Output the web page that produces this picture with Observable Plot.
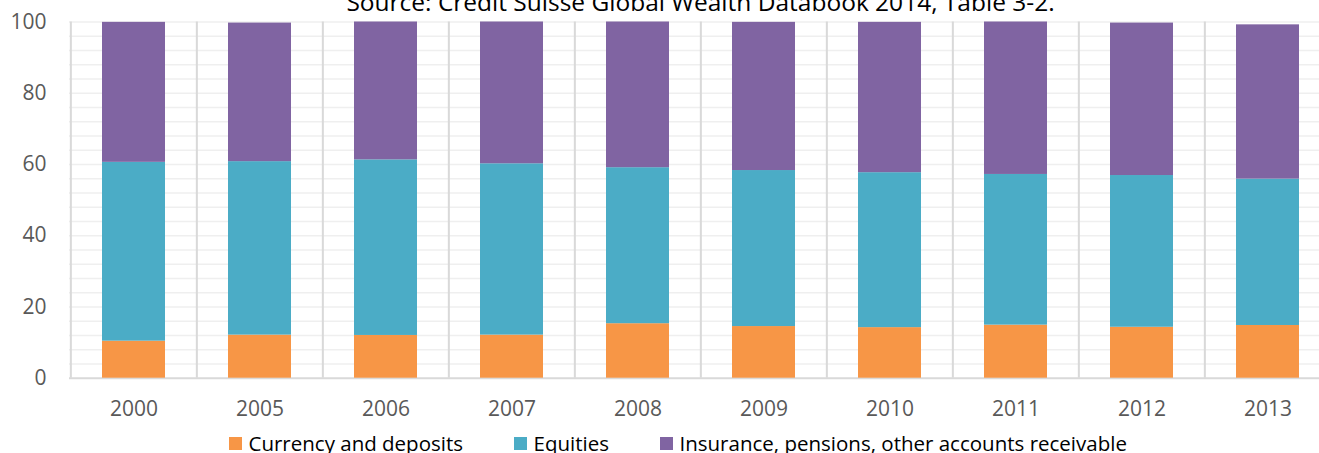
<!DOCTYPE html>
<html>
<head>
<meta charset="utf-8">
<script src="https://cdn.jsdelivr.net/npm/d3@7"></script>
<script src="https://cdn.jsdelivr.net/npm/@observablehq/plot@0.6"></script>
<style>
  html, body { margin: 0; padding: 0; background: #fff; overflow: hidden; }
  #wrap { position: relative; width: 1319px; height: 453px; overflow: hidden; font-family: "Open Sans", sans-serif; }
  #title { position: absolute; left: 69px; width: 1263px; top: -10.5px; text-align: center; font-size: 24.5px; line-height: 24.5px; color: #000; white-space: nowrap; }
  #chart { position: absolute; left: 0; top: 0; width: 1345px; }
  #chart svg { max-width: none !important; }
  #legend { position: absolute; left: 229px; top: 433px; display: flex; align-items: flex-start; font-size: 20.5px; line-height: 20.5px; color: #000; white-space: nowrap; }
  .item { display: flex; align-items: flex-start; margin-right: 51px; }
  .sw { width: 13px; height: 13px; margin-top: 4px; margin-right: 6.5px; }
</style>
</head>
<body>
<div id="wrap">
  <div id="chart"></div>
  <div id="title">Source: Credit Suisse Global Wealth Databook 2014, Table 3-2.</div>
  <div id="legend"></div>
</div>
<script>
const years = ["2000", "2005", "2006", "2007", "2008", "2009", "2010", "2011", "2012", "2013"];
const seriesNames = ["Currency and deposits", "Equities", "Insurance, pensions, other accounts receivable"];
const currency = [10.4, 12.1, 12.0, 12.1, 15.3, 14.5, 14.2, 14.9, 14.3, 14.8];
const equities = [50.2, 48.7, 49.3, 48.1, 43.8, 43.8, 43.5, 42.3, 42.6, 41.1];
const insurance = [39.3, 38.9, 38.7, 39.8, 40.9, 41.6, 42.2, 42.8, 42.8, 43.3];
const colors = ["#F79646", "#4BACC6", "#8064A2"];
const yTicks = [0, 20, 40, 60, 80, 100];
const minorTicks = d3.range(4, 101, 4);

const seriesValues = [currency, equities, insurance];
const data = [];
years.forEach((yr, i) => {
  seriesNames.forEach((s, j) => data.push({year: yr, series: s, value: seriesValues[j][i]}));
});

const width = 1345, height = 430;
const marginLeft = 69, marginRight = 13, marginTop = 21.5, marginBottom = 52.3;
const step = (width - marginLeft - marginRight) / years.length;

const plot = Plot.plot({
  width, height, marginLeft, marginRight, marginTop, marginBottom,
  style: {fontFamily: "Open Sans", fontSize: "21px", color: "#595959", background: "#fff", overflow: "visible", maxWidth: "none"},
  x: {domain: years, paddingInner: 0.5, paddingOuter: 0.25, label: null},
  y: {domain: [0, 100], label: null},
  color: {domain: seriesNames, range: colors},
  marks: [
    Plot.ruleY(minorTicks, {stroke: "#efefef", strokeWidth: 1.5}),
    Plot.ruleX(years, {x: d => d, dx: -step / 2, stroke: "#d9d9d9", strokeWidth: 2}),
    Plot.ruleY([0], {stroke: "#d9d9d9", strokeWidth: 2}),
    Plot.barY(data, {x: "year", y: "value", fill: "series", order: seriesNames}),
    Plot.axisX({tickSize: 0, tickPadding: 23, fontSize: 21, fill: "#595959"}),
    Plot.axisY({ticks: yTicks, tickSize: 0, tickPadding: 23, fontSize: 21, fill: "#595959"})
  ]
});
document.getElementById("chart").appendChild(plot);

const legend = document.getElementById("legend");
seriesNames.forEach((s, i) => {
  const it = document.createElement("div");
  it.className = "item";
  const sw = document.createElement("div");
  sw.className = "sw";
  sw.style.background = colors[i];
  const tx = document.createElement("span");
  tx.textContent = s;
  it.appendChild(sw); it.appendChild(tx);
  legend.appendChild(it);
});
</script>
</body>
</html>
